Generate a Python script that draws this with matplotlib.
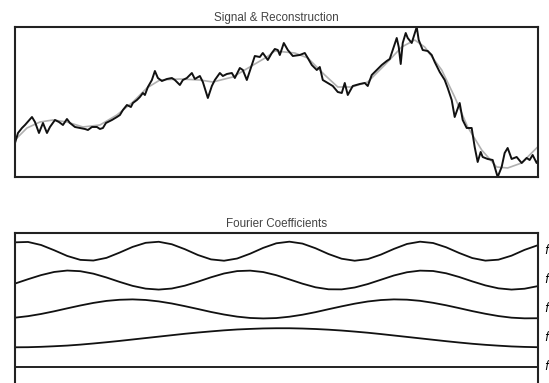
import numpy as np
from matplotlib import pyplot as plt

# signal trace (time, value)
sig_t = [0, 3, 7, 10, 17, 20, 24, 28, 32, 35, 40, 44, 48, 52, 55, 60, 65, 70, 73, 77,
         82, 85, 88, 91, 97, 102, 105, 108, 112, 116, 118, 122, 125, 128, 130, 133, 137, 140, 143, 147,
         152, 157, 160, 165, 168, 172, 177, 180, 185, 188, 193, 197, 200, 205, 208, 212, 217, 220, 225, 228,
         232, 236, 240, 245, 248, 253, 257, 260, 263, 265, 269, 273, 278, 285, 290, 293, 297, 302, 305, 308,
         313, 318, 323, 327, 330, 333, 338, 345, 350, 353, 357, 362, 367, 372, 375, 378, 382, 384, 386, 388,
         391, 393, 397, 402, 404, 408, 413, 417, 420, 425, 430, 433, 437, 440, 445, 448, 452, 457, 460, 463,
         466, 468, 473, 478, 483, 487, 490, 493, 497, 502, 507, 512, 515, 518, 522, 523]
sig_v = [34, 44, 49, 52, 60, 55, 44, 54, 44, 50, 57, 55, 52, 58, 54, 50, 49, 48, 47, 50,
         50, 48, 49, 54, 57, 60, 62, 67, 72, 70, 74, 77, 80, 84, 82, 90, 97, 106, 99, 96,
         98, 99, 97, 92, 97, 99, 104, 98, 101, 95, 79, 91, 97, 104, 101, 103, 104, 99, 109, 107,
         97, 109, 121, 120, 124, 117, 124, 128, 127, 122, 134, 127, 121, 122, 124, 119, 112, 107, 110, 97,
         94, 91, 85, 84, 94, 82, 91, 93, 94, 91, 102, 107, 112, 116, 118, 127, 139, 130, 113, 134,
         144, 139, 134, 150, 137, 127, 126, 122, 115, 105, 97, 89, 77, 60, 74, 57, 49, 49, 30, 15,
         25, 20, 18, 17, 0, 10, 24, 29, 18, 20, 14, 19, 17, 22, 14, 16]

# smooth reconstruction (grey)
rec_t = [0, 12, 25, 38, 52, 68, 85, 102, 118, 132, 145, 165, 185, 198, 218, 235, 252, 260,
         280, 293, 310, 323, 337, 353, 370, 387, 400, 410, 427, 440, 453, 467, 482, 493, 507, 523]
rec_v = [37, 49, 55, 57, 55, 50, 52, 62, 75, 89, 97, 98, 97, 95, 100, 110, 120, 126,
         124, 119, 102, 90, 90, 95, 112, 130, 137, 130, 107, 80, 50, 27, 10, 9, 14, 30]

# Fourier basis curves, sampled across the panel width
coef_u = np.linspace(0, 1, 41)
basis_f4 = [0.93, 0.97, 0.65, 0.10, -0.50, -0.91, -0.98, -0.70, -0.15, 0.45, 0.88, 0.99, 0.73, 0.21,
            -0.40, -0.86, -1.00, -0.77, -0.26, 0.35, 0.83, 1.00, 0.80, 0.31, -0.30, -0.79, -1.00,
            -0.83, -0.36, 0.24, 0.76, 1.00, 0.86, 0.41, -0.19, -0.72, -0.99, -0.89, -0.47, 0.14, 0.62]
basis_f3 = [-0.37, 0.09, 0.52, 0.85, 1.00, 0.93, 0.67, 0.27, -0.19, -0.61, -0.90, -1.00, -0.89, -0.59,
            -0.17, 0.29, 0.69, 0.94, 0.99, 0.84, 0.51, 0.07, -0.38, -0.76, -0.97, -0.98, -0.78,
            -0.42, 0.03, 0.48, 0.82, 0.99, 0.95, 0.71, 0.32, -0.14, -0.56, -0.87, -1.00, -0.91, -0.64]
basis_f2 = [-0.92, -0.76, -0.53, -0.25, 0.06, 0.36, 0.63, 0.84, 0.96, 1.00, 0.94, 0.79, 0.57, 0.29,
            -0.01, -0.32, -0.59, -0.81, -0.95, -1.00, -0.96, -0.82, -0.61, -0.34, -0.03, 0.27, 0.55,
            0.78, 0.93, 1.00, 0.97, 0.85, 0.64, 0.38, 0.08, -0.23, -0.51, -0.75, -0.92, -0.99, -0.98]
basis_f1 = [-1.00, -0.99, -0.95, -0.89, -0.82, -0.72, -0.60, -0.47, -0.33, -0.18, -0.03, 0.12, 0.27,
            0.42, 0.55, 0.67, 0.78, 0.87, 0.93, 0.98, 1.00, 1.00, 0.97, 0.92, 0.85, 0.76, 0.65, 0.53,
            0.39, 0.24, 0.09, -0.06, -0.21, -0.36, -0.50, -0.63, -0.74, -0.83, -0.91, -0.96, -0.99]
basis_f0 = [0.0] * 41
basis = [basis_f0, basis_f1, basis_f2, basis_f3, basis_f4]
basis_labels = ["$f_0$", "$f_1$", "$f_2$", "$f_3$", "$f_4$"]

plt.rcParams['font.family'] = ['Liberation Sans', 'DejaVu Sans']
fig = plt.figure(figsize=(5.49, 3.83), dpi=100)

ax1 = fig.add_axes([0.0273, 0.5379, 0.952, 0.3916])
ax1.plot(rec_t, rec_v, color='#b0b0b0', lw=1.2)
ax1.plot(sig_t, sig_v, color='#111111', lw=1.4)
ax1.margins(0)
ax1.set_xticks([])
ax1.set_yticks([])
ax1.set_title("Signal & Reconstruction", fontsize=8.4, color='#444444', pad=4.5)

ax2 = fig.add_axes([0.0273, -0.01, 0.952, 0.4016])
for k, wave in enumerate(basis):
    ax2.plot(coef_u, k + 0.33 * np.array(wave), color='#111111', lw=1.3)
    ax2.annotate(basis_labels[k], xy=(1.0, k), xycoords=('axes fraction', 'data'),
                 xytext=(4.5, 0), textcoords='offset points', va='center', fontsize=8.5)
ax2.set_xlim(0, 1)
ax2.set_ylim(-0.7, 4.63)
ax2.set_xticks([])
ax2.set_yticks([])
ax2.set_title("Fourier Coefficients", fontsize=8.4, color='#444444', pad=4.5)

for ax in (ax1, ax2):
    for sp in ax.spines.values():
        sp.set_linewidth(1.5)
        sp.set_color('#222222')

fig.savefig("out.png", dpi=100)
